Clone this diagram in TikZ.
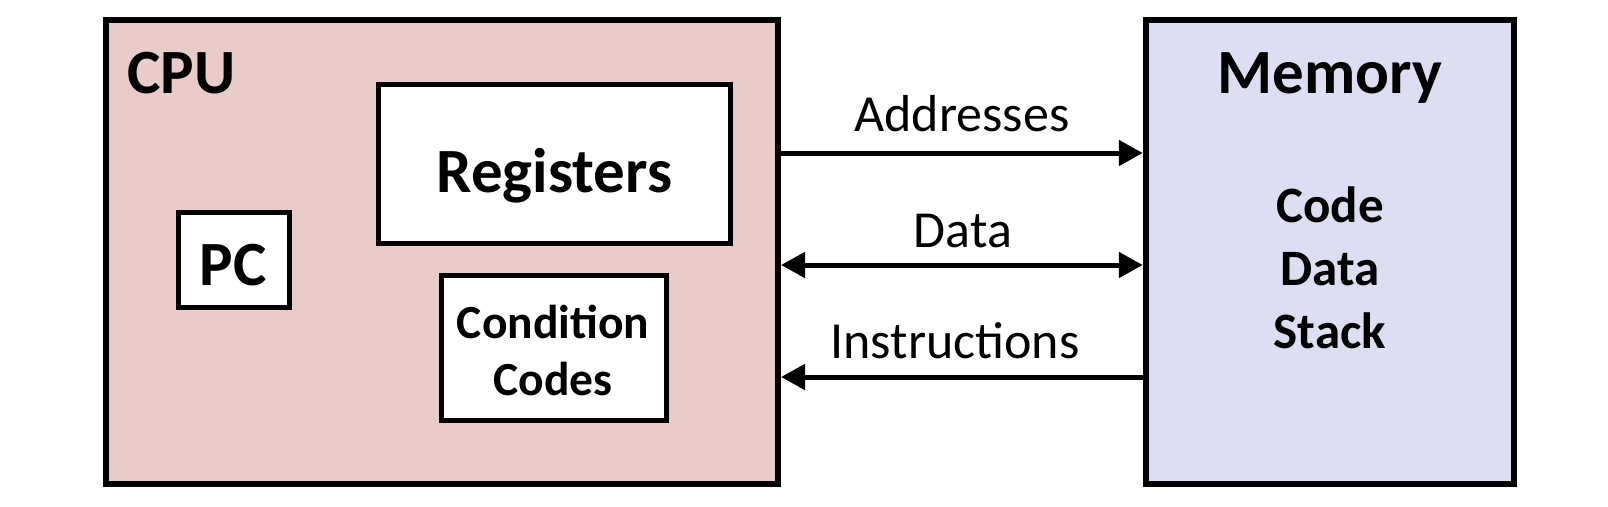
\documentclass[tikz,border=0pt]{standalone}
\usepackage{fontspec}
\setmainfont{Carlito}
\usetikzlibrary{arrows.meta}
\definecolor{cpu_fill}{RGB}{233,203,202}
\definecolor{mem_fill}{RGB}{221,221,243}

\begin{document}
\begin{tikzpicture}[x=1pt, y=-1pt,
		box_style/.style={rectangle,draw=black,line width=5pt,fill=white,inner sep=0pt},
		unit_style/.style={box_style,line width=6pt},
		big_text/.style={inner sep=0pt,anchor=base,font=\fontsize{63}{70}\selectfont\bfseries},
		small_text/.style={inner sep=0pt,anchor=base,font=\fontsize{47.5}{55}\selectfont\bfseries},
		mem_text/.style={small_text,font=\fontsize{51}{58}\selectfont\bfseries},
		bus_text/.style={inner sep=0pt,anchor=base,font=\fontsize{52}{60}\selectfont},
		tip/.tip={Triangle[length=24pt,width=25pt]},
		edge_style/.style={draw=black,line width=5pt}]

		\useasboundingbox (0,0) rectangle (1608,506);

		% the two units
		\node[unit_style,fill=cpu_fill,minimum width=672pt,minimum height=464pt] (cpu) at (442,252) {};
		\node[unit_style,fill=mem_fill,minimum width=368.5pt,minimum height=464pt] (mem) at (1330,252) {};

		% inside the cpu
		\node[box_style,minimum width=352pt,minimum height=159pt] (regs) at (554.5,164) {};
		\node[box_style,minimum width=111pt,minimum height=95pt] (pc) at (234,260) {};
		\node[box_style,minimum width=225pt,minimum height=145pt] (cc) at (554,348) {};

		\node[big_text,anchor=base west] (cpu_lbl) at (127,93) {CPU};
		\node[big_text] (regs_lbl) at (554.5,192) {Registers};
		\node[big_text] (pc_lbl) at (233,285) {PC};
		\node[small_text] (cc_lbl1) at (553,338) {Condition};
		\node[small_text] (cc_lbl2) at (553,395) {Codes};

		% inside the memory
		\node[big_text] (mem_lbl) at (1330,93) {Memory};
		\node[mem_text] (code_lbl) at (1330,222) {Code};
		\node[mem_text] (data_lbl) at (1330,285) {Data};
		\node[mem_text] (stack_lbl) at (1330,348) {Stack};

		% buses
		\coordinate (addr_y) at (0,153);
		\coordinate (data_y) at (0,265);
		\coordinate (inst_y) at (0,377);
		\node[bus_text] (addr) at (962,131) {Addresses};
		\node[bus_text] (data) at (963,247) {Data};
		\node[bus_text] (inst) at (955,358) {Instructions};

		\draw[edge_style]  (cpu.east |- addr_y) edge[-tip] (mem.west |- addr_y);
		\draw[edge_style]  (cpu.east |- data_y) edge[tip-tip] (mem.west |- data_y);
		\draw[edge_style]  (mem.west |- inst_y) edge[-tip] (cpu.east |- inst_y);
\end{tikzpicture}
\end{document}
